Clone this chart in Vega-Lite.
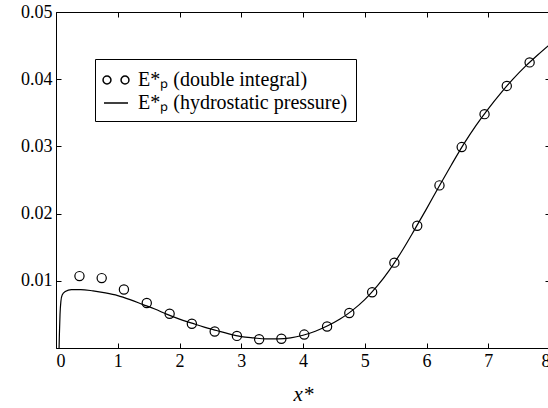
{
  "$schema": "https://vega.github.io/schema/vega-lite/v6.json",
  "width": 494,
  "height": 336,
  "autosize": {"type": "none"},
  "padding": {"left": 56, "top": 12, "right": 0, "bottom": 60},
  "background": "white",
  "config": {
    "view": {"stroke": null},
    "font": "Liberation Serif",
    "axis": {
      "domainColor": "black",
      "domainWidth": 1,
      "tickColor": "black",
      "tickWidth": 1,
      "tickSize": -5,
      "grid": false,
      "labelColor": "black",
      "labelFont": "Liberation Serif",
      "labelFontSize": 18,
      "titleFont": "Liberation Serif",
      "titleColor": "black"
    },
    "legend": {
      "labelFont": "Liberation Serif",
      "labelFontSize": 20,
      "labelColor": "black",
      "labelLimit": 0
    }
  },
  "datasets": {
    "curve": [
      {"x": 0.05, "y": 0.0, "series": "E*ₚ (hydrostatic pressure)"},
      {"x": 0.055, "y": 0.002, "series": "E*ₚ (hydrostatic pressure)"},
      {"x": 0.065, "y": 0.005, "series": "E*ₚ (hydrostatic pressure)"},
      {"x": 0.08, "y": 0.007, "series": "E*ₚ (hydrostatic pressure)"},
      {"x": 0.1, "y": 0.0079, "series": "E*ₚ (hydrostatic pressure)"},
      {"x": 0.15, "y": 0.0084, "series": "E*ₚ (hydrostatic pressure)"},
      {"x": 0.25, "y": 0.0087, "series": "E*ₚ (hydrostatic pressure)"},
      {"x": 0.4, "y": 0.0087, "series": "E*ₚ (hydrostatic pressure)"},
      {"x": 0.6, "y": 0.0085, "series": "E*ₚ (hydrostatic pressure)"},
      {"x": 0.8, "y": 0.0082, "series": "E*ₚ (hydrostatic pressure)"},
      {"x": 1.0, "y": 0.0078, "series": "E*ₚ (hydrostatic pressure)"},
      {"x": 1.2, "y": 0.0072, "series": "E*ₚ (hydrostatic pressure)"},
      {"x": 1.4, "y": 0.0065, "series": "E*ₚ (hydrostatic pressure)"},
      {"x": 1.6, "y": 0.0058, "series": "E*ₚ (hydrostatic pressure)"},
      {"x": 1.8, "y": 0.005, "series": "E*ₚ (hydrostatic pressure)"},
      {"x": 2.0, "y": 0.0043, "series": "E*ₚ (hydrostatic pressure)"},
      {"x": 2.2, "y": 0.0037, "series": "E*ₚ (hydrostatic pressure)"},
      {"x": 2.4, "y": 0.0031, "series": "E*ₚ (hydrostatic pressure)"},
      {"x": 2.6, "y": 0.0026, "series": "E*ₚ (hydrostatic pressure)"},
      {"x": 2.8, "y": 0.0021, "series": "E*ₚ (hydrostatic pressure)"},
      {"x": 3.0, "y": 0.0017, "series": "E*ₚ (hydrostatic pressure)"},
      {"x": 3.2, "y": 0.0015, "series": "E*ₚ (hydrostatic pressure)"},
      {"x": 3.4, "y": 0.00135, "series": "E*ₚ (hydrostatic pressure)"},
      {"x": 3.6, "y": 0.00135, "series": "E*ₚ (hydrostatic pressure)"},
      {"x": 3.8, "y": 0.0015, "series": "E*ₚ (hydrostatic pressure)"},
      {"x": 4.0, "y": 0.0019, "series": "E*ₚ (hydrostatic pressure)"},
      {"x": 4.2, "y": 0.0025, "series": "E*ₚ (hydrostatic pressure)"},
      {"x": 4.4, "y": 0.0033, "series": "E*ₚ (hydrostatic pressure)"},
      {"x": 4.6, "y": 0.0043, "series": "E*ₚ (hydrostatic pressure)"},
      {"x": 4.8, "y": 0.0056, "series": "E*ₚ (hydrostatic pressure)"},
      {"x": 5.0, "y": 0.0072, "series": "E*ₚ (hydrostatic pressure)"},
      {"x": 5.2, "y": 0.0092, "series": "E*ₚ (hydrostatic pressure)"},
      {"x": 5.4, "y": 0.0116, "series": "E*ₚ (hydrostatic pressure)"},
      {"x": 5.6, "y": 0.0144, "series": "E*ₚ (hydrostatic pressure)"},
      {"x": 5.8, "y": 0.0175, "series": "E*ₚ (hydrostatic pressure)"},
      {"x": 6.0, "y": 0.0207, "series": "E*ₚ (hydrostatic pressure)"},
      {"x": 6.2, "y": 0.024, "series": "E*ₚ (hydrostatic pressure)"},
      {"x": 6.4, "y": 0.0272, "series": "E*ₚ (hydrostatic pressure)"},
      {"x": 6.6, "y": 0.0303, "series": "E*ₚ (hydrostatic pressure)"},
      {"x": 6.8, "y": 0.0331, "series": "E*ₚ (hydrostatic pressure)"},
      {"x": 7.0, "y": 0.0356, "series": "E*ₚ (hydrostatic pressure)"},
      {"x": 7.2, "y": 0.0379, "series": "E*ₚ (hydrostatic pressure)"},
      {"x": 7.4, "y": 0.04, "series": "E*ₚ (hydrostatic pressure)"},
      {"x": 7.6, "y": 0.0419, "series": "E*ₚ (hydrostatic pressure)"},
      {"x": 7.8, "y": 0.0436, "series": "E*ₚ (hydrostatic pressure)"},
      {"x": 8.0, "y": 0.0452, "series": "E*ₚ (hydrostatic pressure)"}
    ],
    "points": [
      {"x": 0.38, "y": 0.0107, "series": "E*ₚ (double integral)"},
      {"x": 0.74, "y": 0.0104, "series": "E*ₚ (double integral)"},
      {"x": 1.1, "y": 0.0087, "series": "E*ₚ (double integral)"},
      {"x": 1.47, "y": 0.0067, "series": "E*ₚ (double integral)"},
      {"x": 1.84, "y": 0.0051, "series": "E*ₚ (double integral)"},
      {"x": 2.2, "y": 0.0036, "series": "E*ₚ (double integral)"},
      {"x": 2.57, "y": 0.00245, "series": "E*ₚ (double integral)"},
      {"x": 2.93, "y": 0.0018, "series": "E*ₚ (double integral)"},
      {"x": 3.29, "y": 0.0013, "series": "E*ₚ (double integral)"},
      {"x": 3.65, "y": 0.00137, "series": "E*ₚ (double integral)"},
      {"x": 4.02, "y": 0.002, "series": "E*ₚ (double integral)"},
      {"x": 4.39, "y": 0.0032, "series": "E*ₚ (double integral)"},
      {"x": 4.75, "y": 0.0052, "series": "E*ₚ (double integral)"},
      {"x": 5.12, "y": 0.0083, "series": "E*ₚ (double integral)"},
      {"x": 5.48, "y": 0.0127, "series": "E*ₚ (double integral)"},
      {"x": 5.85, "y": 0.0182, "series": "E*ₚ (double integral)"},
      {"x": 6.21, "y": 0.0242, "series": "E*ₚ (double integral)"},
      {"x": 6.57, "y": 0.0299, "series": "E*ₚ (double integral)"},
      {"x": 6.94, "y": 0.0348, "series": "E*ₚ (double integral)"},
      {"x": 7.3, "y": 0.039, "series": "E*ₚ (double integral)"},
      {"x": 7.67, "y": 0.0425, "series": "E*ₚ (double integral)"}
    ]
  },
  "layer": [
    {
      "data": {"name": "curve"},
      "mark": {"type": "line", "interpolate": "monotone", "strokeWidth": 1.2, "clip": true},
      "encoding": {
        "x": {
          "field": "x", "type": "quantitative",
          "scale": {"domain": [0, 8], "nice": false, "zero": false},
          "axis": {"orient": "bottom", "values": [0, 1, 2, 3, 4, 5, 6, 7, 8], "format": "d", "labelPadding": 9,
                   "title": "x*", "titleFontSize": 21, "titleFontStyle": "italic", "titleFontWeight": "normal", "titlePadding": 13}
        },
        "y": {
          "field": "y", "type": "quantitative",
          "scale": {"domain": [0, 0.05], "nice": false},
          "axis": {"orient": "left", "values": [0, 0.01, 0.02, 0.03, 0.04, 0.05], "labelExpr": "datum.value == 0 ? '' : format(datum.value, '.2f')", "labelPadding": 9, "title": null}
        },
        "color": {
          "field": "series", "type": "nominal",
          "scale": {"domain": ["E*ₚ (double integral)", "E*ₚ (hydrostatic pressure)"], "range": ["black", "black"]},
          "legend": {
            "orient": "none", "legendX": 39, "legendY": 47,
            "title": null,
            "strokeColor": "black",
            "fillColor": "white",
            "padding": 8, "labelOffset": 9, "rowPadding": 0,
            "labelLimit": 0,
            "symbolSize": 576,
            "encode": {
              "symbols": {
                "update": {
                  "shape": {"signal": "datum.index == 0 ? 'M -0.42,0 A 0.33,0.33 0 1,0 -1.08,0 A 0.33,0.33 0 1,0 -0.42,0 M 1.08,0 A 0.33,0.33 0 1,0 0.42,0 A 0.33,0.33 0 1,0 1.08,0' : 'stroke'"},
                  "size": {"value": 576},
                  "stroke": {"value": "black"},
                  "fill": {"value": "transparent"}
                }
              }
            }
          }
        }
      }
    },
    {
      "data": {"name": "points"},
      "mark": {"type": "point", "shape": "circle", "filled": false, "size": 85, "strokeWidth": 1.2, "opacity": 1},
      "encoding": {
        "x": {
          "field": "x", "type": "quantitative",
          "axis": {"orient": "top", "values": [0, 1, 2, 3, 4, 5, 6, 7, 8], "labels": false, "title": null}
        },
        "y": {
          "field": "y", "type": "quantitative",
          "axis": {"orient": "right", "values": [0, 0.01, 0.02, 0.03, 0.04, 0.05], "labels": false, "title": null}
        },
        "color": {"field": "series", "type": "nominal"}
      }
    }
  ]
}
